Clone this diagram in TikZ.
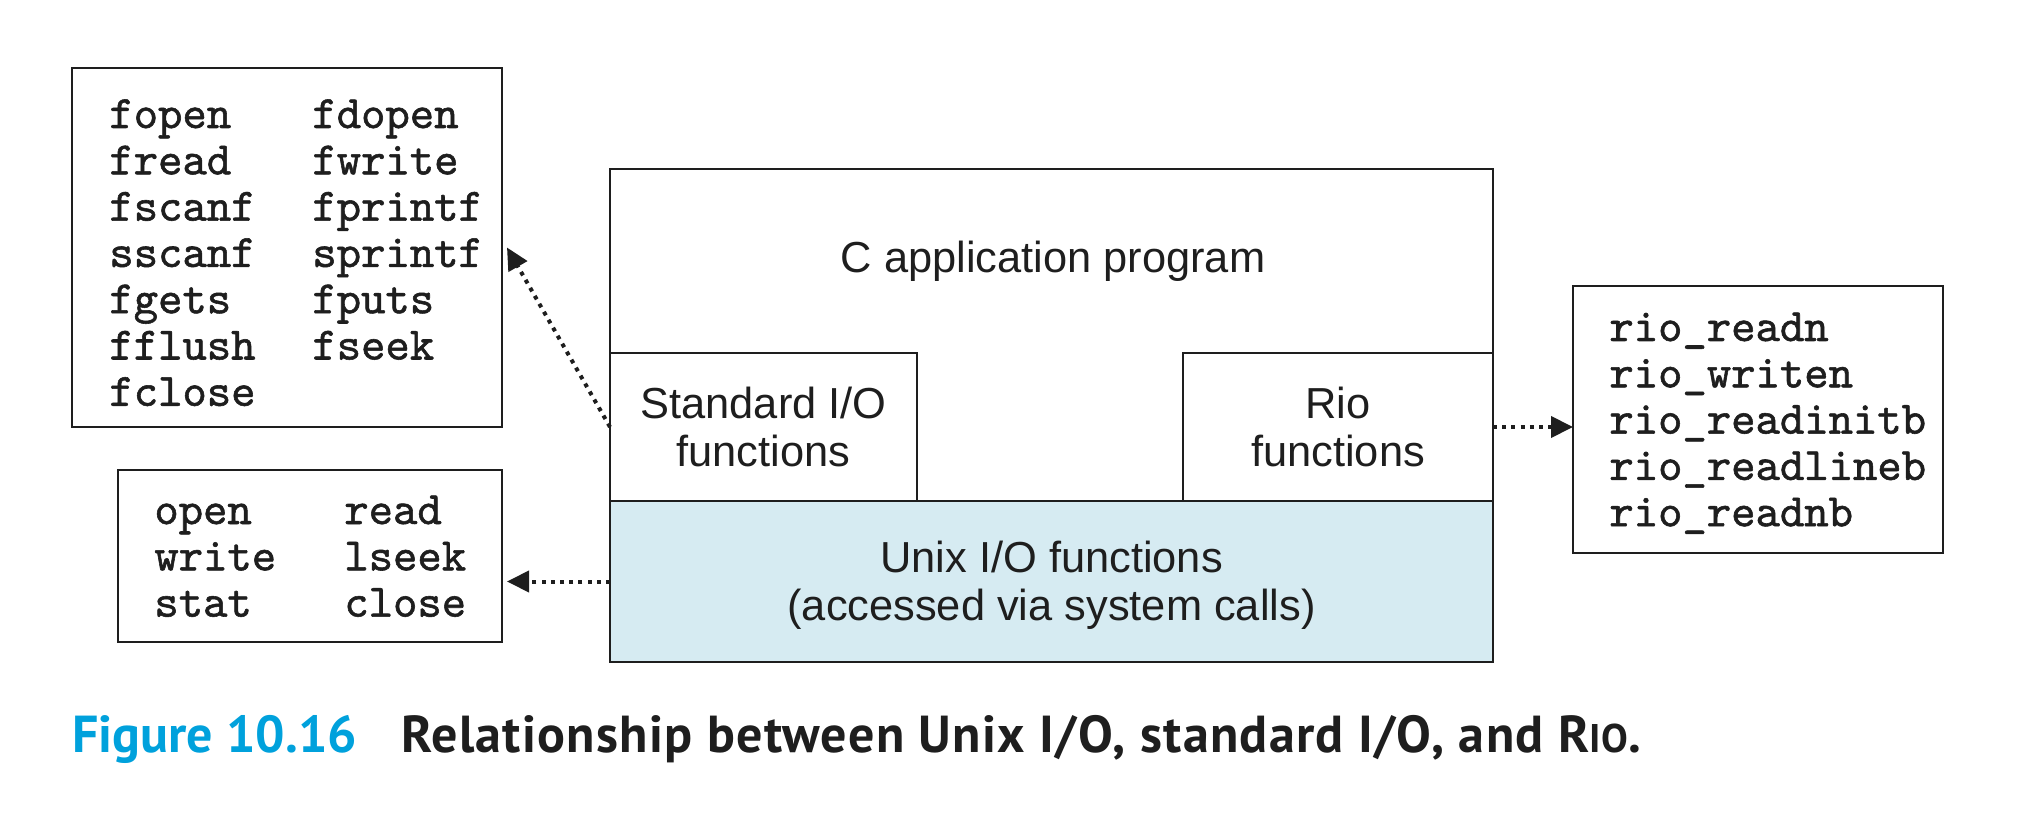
\documentclass[tikz,border=0pt]{standalone}
\usepackage{fontspec}
\setmainfont{Liberation Sans}
\newfontfamily\capfont{PT Sans}
\newfontfamily\listfont{lmmono10-regular.otf}[FakeBold=1.2]
\usetikzlibrary{arrows.meta,calc}
\definecolor{unixblue}{RGB}{214,235,242}
\definecolor{figblue}{RGB}{0,161,220}
\definecolor{ink}{RGB}{30,30,30}
\begin{document}
\begin{tikzpicture}[x=0.5pt,y=-0.5pt,
  box/.style={draw=ink, line width=1.2pt, inner sep=0pt, outer sep=0pt, anchor=north west},
  listtext/.style={anchor=base west, inner sep=0pt, text=ink, font=\listfont\fontsize{23.2}{23.15}\selectfont},
  midtext/.style={align=center, inner sep=0pt, text=ink, font=\fontsize{21.7}{24}\selectfont},
  captext/.style={anchor=base west, inner sep=0pt, font=\capfont\bfseries\fontsize{26}{30}\selectfont},
  dotarrow/.style={draw=ink, line width=2pt, dash pattern=on 2pt off 2.6pt, -{Triangle[length=11pt,width=10.5pt]}}
]
\useasboundingbox (0,0) rectangle (2020,818);

% left lists
\node[box, minimum width=215pt, minimum height=179.5pt] (stdlist) at (72,68) {};
\node[listtext] (stdlisttext) at (109,128) {\begin{tabular}[t]{@{}p{101.5pt}@{}l@{}}
fopen & fdopen\\ fread & fwrite\\ fscanf & fprintf\\ sscanf & sprintf\\ fgets & fputs\\ fflush & fseek\\ fclose & \end{tabular}};

\node[box, minimum width=192pt, minimum height=86pt] (unixlist) at (118,470) {};
\node[listtext] (unixlisttext) at (154,524) {\begin{tabular}[t]{@{}p{95pt}@{}l@{}}
open & read\\ write & lseek\\ stat & close\end{tabular}};

% main stack
\node[box, minimum width=441.5pt, minimum height=166pt] (app) at (610,169) {};
\node[box, fill=unixblue, minimum width=441.5pt, minimum height=80.5pt] (unix) at (610,501) {};
\node[box, fill=white, minimum width=153.5pt, minimum height=74pt] (std) at (610,353) {};
\node[box, fill=white, minimum width=155pt, minimum height=74pt] (rio) at (1183,353) {};

\node[midtext, anchor=base] (apptext) at (1053,273) {C application program};
\node[midtext] (stdtext) at (std.center) {Standard I/O\\functions};
\node[midtext] (riotext) at (rio.center) {Rio\\functions};
\node[midtext, yshift=-2pt] (unixtext) at (unix.center) {Unix I/O functions\\(accessed via system calls)};

% right list
\node[box, minimum width=185pt, minimum height=133.5pt] (riolist) at (1573,286) {};
\node[listtext] (riolisttext) at (1609,341) {\begin{tabular}[t]{@{}l@{}}
rio\_readn\\ rio\_writen\\ rio\_readinitb\\ rio\_readlineb\\ rio\_readnb\end{tabular}};

% arrows
\draw[dotarrow] (std.west) -- ([xshift=2.5pt]stdlist.east);
\draw[dotarrow] (unix.west) -- ([xshift=2.5pt]unix.west -| unixlist.east);
\draw[dotarrow] (rio.east) -- (rio.east -| riolist.west);

% caption
\node[captext, text=figblue] (fignum) at (72,752) {Figure 10.16};
\node[captext, text=ink] (figtitle) at (401,752) {\addfontfeatures{LetterSpace=2.5}Relationship between Unix I/O, standard I/O, and R{\fontsize{20}{20}\selectfont IO}.};
\end{tikzpicture}
\end{document}
